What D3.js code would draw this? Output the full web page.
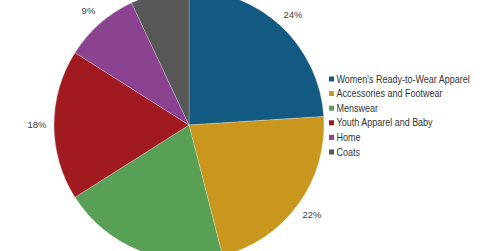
<!DOCTYPE html>
<html>
<head>
<meta charset="utf-8">
<script src="https://cdn.jsdelivr.net/npm/d3@7"></script>
<style>
  body { margin: 0; background: #fff; }
  svg { display: block; font-family: "Liberation Sans", Arial, sans-serif; }
</style>
</head>
<body>
<svg id="chart" width="480" height="251"></svg>
<script>
const categories = ["Women's Ready-to-Wear Apparel", "Accessories and Footwear", "Menswear",
    "Youth Apparel and Baby", "Home", "Coats"];
const shares = [24, 22, 20, 18, 9, 7];
const colors = ["#135a83", "#c9971e", "#58a055", "#a01a20", "#8b4290", "#575757"];

const width = 480, height = 251;
const svg = d3.select("#chart");
const cx = 189, cy = 125, radius = 135;

const pie = d3.pie().sort(null).value(d => d);
const arcs = pie(shares);
const arc = d3.arc().innerRadius(0).outerRadius(radius);
const labelArc = d3.arc().innerRadius(152).outerRadius(152);

const g = svg.append("g").attr("transform", `translate(${cx},${cy})`);

g.selectAll("path")
    .data(arcs)
    .enter().append("path")
    .attr("d", arc)
    .attr("fill", (d, i) => colors[i])
    .attr("stroke", "#ffffff")
    .attr("stroke-opacity", 0.35)
    .attr("stroke-width", 0.7);

// labels that fall outside the picture are clipped in the original, so skip them
const visible = arcs.filter(d => {
    const [x, y] = labelArc.centroid(d);
    return cy + y > 8 && cy + y < height - 8;
});

g.selectAll("text.pct")
    .data(visible)
    .enter().append("text")
    .attr("class", "pct")
    .attr("transform", d => `translate(${labelArc.centroid(d)})`)
    .attr("text-anchor", "middle")
    .attr("dy", "0.35em")
    .attr("font-size", 9.5)
    .attr("fill", "#404040")
    .text(d => d.data + "%");

// legend
const legend = svg.append("g").attr("transform", "translate(329,79)");
const rows = legend.selectAll("g")
    .data(categories)
    .enter().append("g")
    .attr("transform", (d, i) => `translate(0,${i * 14.6})`);

rows.append("rect")
    .attr("x", 0)
    .attr("y", -2.5)
    .attr("width", 5)
    .attr("height", 5)
    .attr("fill", (d, i) => colors[i]);

rows.append("text")
    .attr("transform", "translate(7.5,0) scale(0.9,1)")
    .attr("dy", "0.35em")
    .attr("font-size", 10)
    .attr("fill", "#333333")
    .text(d => d);
</script>
</body>
</html>
